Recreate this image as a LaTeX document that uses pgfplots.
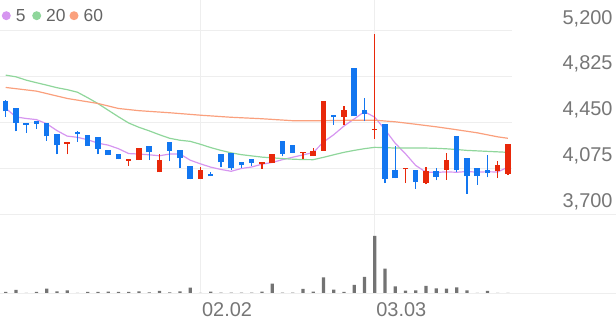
\documentclass[border=0pt]{standalone}
\usepackage{pgfplots}
\pgfplotsset{compat=1.18}
\usepackage{pgfplotstable}
\usepackage{fontspec}
\setmainfont{Liberation Sans}

\definecolor{cblue}{RGB}{18,118,240}
\definecolor{cred}{RGB}{232,40,10}
\definecolor{mafive}{RGB}{214,150,240}
\definecolor{matwenty}{RGB}{143,214,155}
\definecolor{masixty}{RGB}{250,160,125}
\definecolor{volc}{RGB}{115,115,115}
\definecolor{gridc}{RGB}{238,238,238}
\definecolor{labc}{RGB}{118,118,118}
\definecolor{legc}{RGB}{100,100,100}

% falling candles: index open high low close
\pgfplotstableread{
x o h l c
0 4628 4634 4497 4543
1 4566 4566 4379 4447
2 4451 4451 4369 4434
3 4461 4461 4402 4443
4 4451 4451 4303 4338
5 4355 4355 4191 4264
7 4371 4379 4292 4355
8 4347 4347 4259 4259
9 4333 4333 4191 4237
10 4229 4229 4185 4185
11 4193 4193 4150 4150
14 4262 4262 4144 4207
16 4289 4289 4136 4218
17 4226 4226 4078 4158
18 4098 4098 3985 3985
20 4027 4045 4010 4010
21 4191 4191 4086 4125
22 4201 4201 4059 4082
23 4131 4131 4078 4100
24 4155 4155 4095 4119
27 4300 4300 4174 4196
28 4264 4264 4201 4201
32 4511 4511 4434 4494
34 4894 4894 4502 4502
35 4552 4648 4461 4519
37 4437 4437 3955 3991
38 4059 4259 3994 3994
40 4062 4062 3909 3963
42 4054 4082 3977 4004
44 4341 4341 4045 4059
45 4158 4158 3868 4010
46 4078 4078 3942 4013
47 4065 4185 4002 4037
}\bluecandles

% rising candles
\pgfplotstableread{
x o h l c
6 4278 4295 4191 4295
12 4139 4152 4095 4152
13 4144 4240 4144 4240
15 4043 4191 4043 4147
19 3988 4086 3988 4059
25 4114 4125 4073 4125
26 4123 4196 4123 4196
29 4199 4213 4155 4213
30 4177 4246 4177 4218
31 4218 4628 4218 4628
33 4497 4590 4429 4557
36 4390 5175 4320 4402
39 4068 4076 3955 4076
41 3958 4084 3944 4051
43 4062 4205 3983 4141
48 4054 4136 3996 4100
49 4032 4273 4024 4273
}\redcandles

\pgfplotstableread{
x v
0 1.3
1 3.3
2 0.4
3 1.3
4 4.7
5 2.0
6 3.0
7 0.4
8 1.3
9 1.3
10 1.7
11 1.3
12 1.3
13 2.0
14 1.0
15 2.3
16 1.0
17 2.0
18 5.7
19 0.4
20 1.7
21 0.7
22 0.7
23 0.7
24 0.7
25 1.7
26 9.7
27 0.7
28 0.7
29 4.3
30 1.7
31 16.0
32 3.7
33 1.3
34 8.3
35 16.3
36 57.3
37 24.7
38 7.0
39 2.7
40 3.0
41 7.3
42 5.0
43 4.7
44 6.0
45 3.0
46 0.4
47 2.3
48 0.4
49 0.4
}\volume

\begin{document}
\begin{tikzpicture}
\useasboundingbox (0bp,0bp) rectangle (616bp,321bp);

\begin{axis}[
  at={(0bp,106.7bp)}, anchor=south west,
  width=512bp, height=214.3bp, scale only axis,
  xmin=-0.556, xmax=49.4, ymin=3700, ymax=5453.7,
  axis line style={draw=none}, tick style={draw=none},
  xtick={19,36}, xticklabels={}, xmajorgrids,
  ytick={3700,4075,4450,4825,5200}, ymajorgrids,
  grid style={gridc, line width=1bp},
  yticklabel pos=right,
  yticklabel style={anchor=base east, inner sep=0pt, xshift=100.7bp, yshift=7bp,
     font=\fontsize{20}{20}\selectfont, text=labc},
  /pgf/number format/.cd, 1000 sep={,}, assume math mode=true,
]
% moving averages
\addplot[mafive, line width=1.2bp] coordinates {
(0,4568) (1,4497) (2,4484) (3,4475) (4,4441) (5,4385) (6,4340) (7,4330)
(8,4310) (9,4282) (10,4266) (11,4237) (12,4197) (13,4193) (14,4187)
(15,4179) (16,4193) (17,4194) (18,4143) (19,4113) (20,4086) (21,4067)
(22,4052) (23,4075) (24,4087) (25,4110) (26,4124) (27,4147) (28,4167)
(29,4186) (30,4205) (31,4291) (32,4351) (33,4422) (34,4480) (35,4540)
(36,4495) (37,4394) (38,4282) (39,4196) (40,4100) (41,4045) (42,4043)
(43,4047) (44,4044) (45,4050) (46,4045) (47,4048) (48,4046) (49,4086)};
\addplot[matwenty, line width=1.2bp] coordinates {
(0,4839) (1,4825) (2,4798) (3,4777) (4,4757) (5,4736) (6,4720) (7,4699)
(8,4654) (9,4606) (10,4552) (11,4498) (12,4447) (13,4412) (14,4383)
(15,4351) (16,4322) (17,4306) (18,4297) (19,4273) (20,4246) (21,4223)
(22,4203) (23,4188) (24,4178) (25,4168) (26,4162) (27,4156) (28,4151)
(29,4148) (30,4147) (31,4166) (32,4187) (33,4207) (34,4223) (35,4237)
(36,4248) (37,4246) (38,4242) (39,4242) (40,4242) (41,4242) (42,4240)
(43,4236) (44,4230) (45,4223) (46,4219) (47,4215) (48,4211) (49,4207)};
\addplot[masixty, line width=1.2bp] coordinates {
(0,4738) (3,4708) (6,4648) (9,4607) (11,4566) (13,4548) (16,4531)
(19,4511) (22,4494) (25,4482) (28,4466) (31,4466) (34,4470) (36,4470)
(38,4457) (40,4437) (42,4416) (44,4392) (46,4367) (48,4334) (49,4322)};

% wicks
\addplot[draw=none, mark=none, error bars/.cd, y dir=plus, y explicit, error mark=none,
  error bar style={draw=cblue, line width=1.3bp}]
  table[x=x, y=l, y error plus expr=\thisrow{h}-\thisrow{l}] {\bluecandles};
\addplot[draw=none, mark=none, error bars/.cd, y dir=plus, y explicit, error mark=none,
  error bar style={draw=cred, line width=1.3bp}]
  table[x=x, y=l, y error plus expr=\thisrow{h}-\thisrow{l}] {\redcandles};
% bodies
\addplot[draw=none, mark=none, error bars/.cd, y dir=plus, y explicit, error mark=none,
  error bar style={draw=cblue, line width=5.5bp}]
  table[x=x, y=c, y error plus expr=\thisrow{o}-\thisrow{c}] {\bluecandles};
\addplot[draw=none, mark=none, error bars/.cd, y dir=plus, y explicit, error mark=none,
  error bar style={draw=cred, line width=5.5bp}]
  table[x=x, y=o, y error plus expr=\thisrow{c}-\thisrow{o}] {\redcandles};
\end{axis}

\begin{axis}[
  at={(0bp,27.7bp)}, anchor=south west,
  width=512bp, height=79bp, scale only axis,
  xmin=-0.556, xmax=49.4, ymin=0, ymax=79,
  axis line style={draw=none}, tick style={draw=none},
  xtick={19,36}, xticklabels={02.02,03.03}, xmajorgrids,
  grid style={gridc, line width=1bp},
  ytick=\empty,
  xticklabel style={anchor=base west, inner sep=0pt, xshift=1.5bp, yshift=-23.4bp,
     font=\fontsize{20}{20}\selectfont, text=labc},
]
\addplot[ybar, bar width=3.2bp, fill=volc, draw=none] table[x=x, y=v] {\volume};
\end{axis}

\draw[gridc, line width=1bp] (0bp,106.7bp) -- (616bp,106.7bp);
\draw[gridc, line width=1bp] (0bp,27.7bp) -- (616bp,27.7bp);

% legend
\fill[mafive] (6.3bp,305.3bp) circle (4.5bp);
\node[anchor=base west, inner sep=0pt, font=\fontsize{17.5}{17.5}\selectfont, text=legc] at (15.8bp,299.3bp) {5};
\fill[matwenty] (36.7bp,305.3bp) circle (4.5bp);
\node[anchor=base west, inner sep=0pt, font=\fontsize{17.5}{17.5}\selectfont, text=legc] at (46bp,299.3bp) {20};
\fill[masixty] (74bp,305.3bp) circle (4.5bp);
\node[anchor=base west, inner sep=0pt, font=\fontsize{17.5}{17.5}\selectfont, text=legc] at (83.5bp,299.3bp) {60};
\end{tikzpicture}
\end{document}
